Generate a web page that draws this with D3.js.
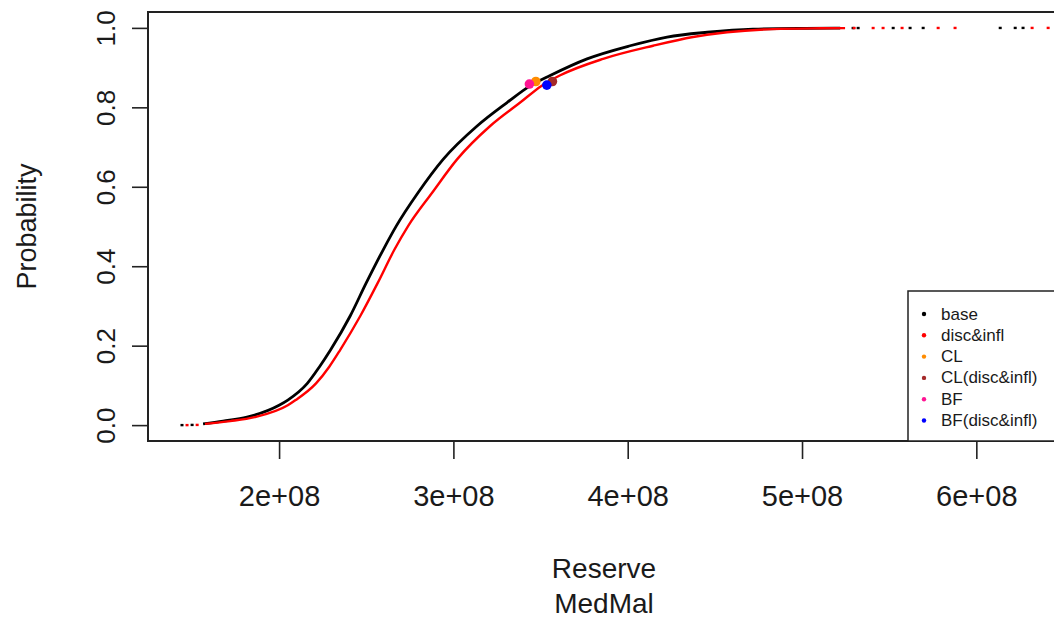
<!DOCTYPE html>
<html>
<head>
<meta charset="utf-8">
<script src="https://cdn.jsdelivr.net/npm/d3@7"></script>
<style>
    html, body { margin: 0; padding: 0; background: #fff; }
    svg { display: block; font-family: "Liberation Sans", Arial, sans-serif; }
</style>
</head>
<body>
<svg id="chart" width="1054" height="623"></svg>
<script>

// cumulative probability levels
var probs = [0.003, 0.01, 0.02, 0.05, 0.063, 0.105, 0.147, 0.189, 0.274, 0.358, 0.442, 0.501,
             0.585, 0.669, 0.753, 0.812, 0.854, 0.88, 0.922, 0.955, 0.977, 0.989, 0.997, 0.999, 0.9995];

// reserve quantiles (units of 1e8) at those levels
var baseQ = [1.564, 1.679, 1.816, 2.000, 2.050, 2.162, 2.232, 2.295, 2.407, 2.500, 2.598, 2.672,
             2.797, 2.941, 3.136, 3.308, 3.440, 3.555, 3.767, 4.014, 4.226, 4.456, 4.719, 5.018, 5.219];
var discQ = [1.575, 1.720, 1.860, 2.050, 2.095, 2.212, 2.288, 2.350, 2.465, 2.566, 2.662, 2.740,
             2.878, 3.021, 3.211, 3.383, 3.505, 3.610, 3.859, 4.146, 4.375, 4.570, 4.834, 5.104, 5.247];

// isolated simulations at both ends of the distributions
var baseHead = [1.443, 1.501];
var discHead = [1.472, 1.530];
var baseTail = [5.293, 5.322, 5.523, 5.620, 5.695, 6.137, 6.223, 6.268];
var discTail = [5.299, 5.408, 5.465, 5.574, 5.781, 5.878, 6.320, 6.412];

// point estimates (reserve in 1e8, probability)
var estNames = ["CL", "CL(disc&infl)", "BF", "BF(disc&infl)"];
var estReserve = [3.473, 3.568, 3.436, 3.536];
var estProb = [0.865, 0.865, 0.8586, 0.856];
var estColors = ["#ff8c00", "#a52a2a", "#ff1493", "#0000ff"];

var legendNames = ["base", "disc&infl", "CL", "CL(disc&infl)", "BF", "BF(disc&infl)"];
var legendColors = ["#000000", "#ff0000", "#ff8c00", "#a52a2a", "#ff1493", "#0000ff"];

var xTicks = [2e8, 3e8, 4e8, 5e8, 6e8];
var yTicks = [0, 0.2, 0.4, 0.6, 0.8, 1.0];


var chart = {

    box: {left: 148, right: 1060, top: 12, bottom: 441},

    draw: function () {
        var b = chart.box;
        var svg = d3.select("#chart");

        var x = d3.scaleLinear().domain([1.248e8, 6.48e8]).range([b.left, b.right]);
        var y = d3.scaleLinear().domain([-0.04, 1.04]).range([b.bottom, b.top]);

        var plot = svg.append("g").attr("class", "plot");

        var line = d3.line()
            .x(function (d) { return x(d[0] * 1e8); })
            .y(function (d) { return y(d[1]); })
            .curve(d3.curveMonotoneX);

        var series = [
            {q: baseQ, head: baseHead, tail: baseTail, color: "#000000", w: 2.8},
            {q: discQ, head: discHead, tail: discTail, color: "#ff0000", w: 2.4}
        ];

        series.forEach(function (s) {
            var pts = s.q.map(function (v, i) { return [v, probs[i]]; });
            plot.append("path")
                .datum(pts)
                .attr("fill", "none")
                .attr("stroke", s.color)
                .attr("stroke-width", s.w)
                .attr("d", line);

            plot.selectAll(null)
                .data(s.head)
                .enter().append("rect")
                .attr("x", function (d) { return x(d * 1e8) - 1.5; })
                .attr("y", function (d, i) { return y(0.0005 * i) - 1.2; })
                .attr("width", 3)
                .attr("height", 2.4)
                .attr("fill", s.color);

            plot.selectAll(null)
                .data(s.tail)
                .enter().append("rect")
                .attr("x", function (d) { return x(d * 1e8) - 1.5; })
                .attr("y", function (d, i) { return y(0.9996 + 0.00005 * i) - 1.2; })
                .attr("width", 3)
                .attr("height", 2.4)
                .attr("fill", s.color);
        });

        plot.selectAll("circle.est")
            .data(estNames)
            .enter().append("circle")
            .attr("class", "est")
            .attr("cx", function (d, i) { return x(estReserve[i] * 1e8); })
            .attr("cy", function (d, i) { return y(estProb[i]); })
            .attr("r", 4.8)
            .attr("fill", function (d, i) { return estColors[i]; });

        // x axis
        var xAxis = svg.append("g")
            .attr("transform", "translate(0," + b.bottom + ")")
            .call(d3.axisBottom(x)
                .tickValues(xTicks)
                .tickSize(18)
                .tickPadding(26)
                .tickFormat(function (d) { return (d / 1e8) + "e+08"; }));
        xAxis.select(".domain").remove();
        xAxis.selectAll("line").attr("stroke", "#222").attr("stroke-width", 1.6);
        xAxis.selectAll("text")
            .attr("font-size", 29)
            .attr("font-family", "Liberation Sans, Arial, sans-serif")
            .attr("fill", "#1a1a1a")
            .attr("dy", "0.71em");

        // y axis, labels parallel to the axis
        var yAxis = svg.append("g")
            .attr("transform", "translate(" + b.left + ",0)")
            .call(d3.axisLeft(y)
                .tickValues(yTicks)
                .tickSize(16)
                .tickFormat(d3.format(".1f")));
        yAxis.select(".domain").remove();
        yAxis.selectAll("line").attr("stroke", "#222").attr("stroke-width", 1.6);
        yAxis.selectAll("text")
            .attr("font-size", 26)
            .attr("font-family", "Liberation Sans, Arial, sans-serif")
            .attr("fill", "#1a1a1a")
            .attr("x", null)
            .attr("dy", null)
            .attr("text-anchor", "middle")
            .attr("transform", "translate(-42,0) rotate(-90)")
            .attr("dominant-baseline", "central");

        // frame
        svg.append("rect")
            .attr("x", b.left)
            .attr("y", b.top)
            .attr("width", b.right - b.left)
            .attr("height", b.bottom - b.top)
            .attr("fill", "none")
            .attr("stroke", "#222")
            .attr("stroke-width", 2);

        // axis titles
        svg.append("text")
            .attr("transform", "translate(27," + ((b.top + b.bottom) / 2) + ") rotate(-90)")
            .attr("text-anchor", "middle")
            .attr("dominant-baseline", "central")
            .attr("font-size", 27)
            .attr("fill", "#1a1a1a")
            .text("Probability");

        var midX = (b.left + b.right) / 2;
        svg.append("text")
            .attr("x", midX).attr("y", 568)
            .attr("text-anchor", "middle")
            .attr("dominant-baseline", "central")
            .attr("font-size", 28)
            .attr("fill", "#1a1a1a")
            .text("Reserve");
        svg.append("text")
            .attr("x", midX).attr("y", 603)
            .attr("text-anchor", "middle")
            .attr("dominant-baseline", "central")
            .attr("font-size", 28)
            .attr("fill", "#1a1a1a")
            .text("MedMal");

        chart.legend(svg);
    },

    legend: function (svg) {
        var b = chart.box;
        var lg = svg.append("g").attr("class", "legend");
        lg.append("rect")
            .attr("x", 908)
            .attr("y", 291)
            .attr("width", b.right - 908)
            .attr("height", b.bottom - 291)
            .attr("fill", "#fff")
            .attr("stroke", "#222")
            .attr("stroke-width", 1.5);

        var rows = lg.selectAll("g.row")
            .data(legendNames)
            .enter().append("g")
            .attr("class", "row")
            .attr("transform", function (d, i) { return "translate(0," + (314 + i * 21.3) + ")"; });

        rows.append("circle")
            .attr("cx", 924)
            .attr("cy", 0)
            .attr("r", 2.2)
            .attr("fill", function (d, i) { return legendColors[i]; });

        rows.append("text")
            .attr("x", 941)
            .attr("y", 0)
            .attr("dominant-baseline", "central")
            .attr("font-size", 17)
            .attr("fill", "#1a1a1a")
            .text(function (d) { return d; });
    }
};

chart.draw();
</script>
</body>
</html>
